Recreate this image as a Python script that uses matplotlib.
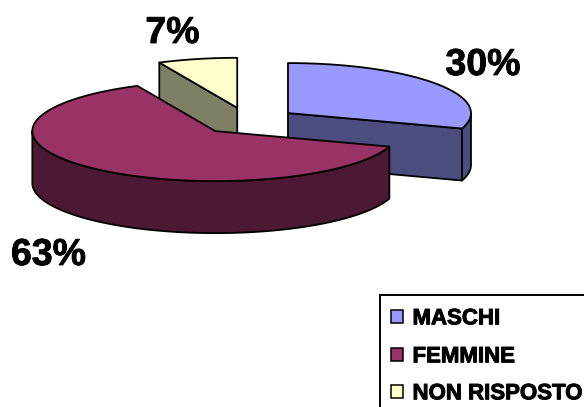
import numpy as np
import matplotlib
matplotlib.use("Agg")
import matplotlib.pyplot as plt
from matplotlib.patches import Polygon, Rectangle
import matplotlib.patheffects as pe

# ---- data ----
categories = ["MASCHI", "FEMMINE", "NON RISPOSTO"]
values = [30, 63, 7]
labels = ["30%", "63%", "7%"]

# ---- style ----
top_colors = ["#9999FF", "#993366", "#FFFFCC"]
side_colors = ["#4C4C7F", "#4C1933", "#7F7F66"]

plt.rcParams['font.family'] = ['Liberation Sans', 'DejaVu Sans']

W, H = 584, 407
fig = plt.figure(figsize=(W / 100, H / 100), dpi=100)
ax = fig.add_axes([0, 0, 1, 1])
ax.set_xlim(0, W)
ax.set_ylim(H, 0)
ax.axis('off')

# pie geometry (pixel coordinates, y down)
cx, cy = 248.0, 121.0
rx, ry = 183.0, 50.0
depth = 52.0
explode = 0.27
lw = 1.3


def pt(theta_deg, c, z=0.0):
    t = np.radians(theta_deg)
    return np.column_stack([c[0] + rx * np.cos(t), c[1] - ry * np.sin(t) + z])


total = float(sum(values))
slices = []
start = 90.0
for i, v in enumerate(values):
    sweep = v / total * 360.0
    hi = start
    lo = start - sweep
    mid = np.radians((hi + lo) / 2)
    c = (cx + explode * rx * np.cos(mid), cy - explode * ry * np.sin(mid))
    slices.append((i, lo, hi, c))
    start = lo

# painter's order: back (smaller y) first
slices.sort(key=lambda s: s[3][1])

for i, lo, hi, c in slices:
    ctr = np.array([[c[0], c[1]]])
    ctr_b = np.array([[c[0], c[1] + depth]])
    # visible cut faces
    for ang, vis in ((lo, np.cos(np.radians(lo)) > 1e-6), (hi, np.cos(np.radians(hi)) < -1e-6)):
        if vis:
            rt = pt(ang, c)
            rb = pt(ang, c, depth)
            poly = np.vstack([ctr, rt, rb, ctr_b])
            ax.add_patch(Polygon(poly, closed=True, facecolor=side_colors[i],
                                 edgecolor='black', lw=lw, joinstyle='round'))
    # outer curved side (front half: angles 180..360)
    for k in (-1, 0, 1):
        a0 = max(lo, 180 + 360 * k)
        a1 = min(hi, 360 + 360 * k)
        if a1 > a0:
            th = np.linspace(a0, a1, 200)
            top = pt(th, c)
            bot = pt(th[::-1], c, depth)
            ax.add_patch(Polygon(np.vstack([top, bot]), closed=True,
                                 facecolor=side_colors[i], edgecolor='black',
                                 lw=lw, joinstyle='round'))
    # top face
    th = np.linspace(lo, hi, 300)
    poly = np.vstack([ctr, pt(th, c)])
    ax.add_patch(Polygon(poly, closed=True, facecolor=top_colors[i],
                         edgecolor='black', lw=lw, joinstyle='round'))

# percentage labels
label_pos = [(483, 75), (48.5, 265), (172.5, 43)]
for lab, (x, y) in zip(labels, label_pos):
    ax.text(x, y, lab, ha='center', va='baseline', fontsize=27,
            fontweight='bold', color='black',
            path_effects=[pe.withStroke(linewidth=0.6, foreground='black')])

# legend box (partly outside figure, as in the reference)
ax.add_patch(Rectangle((380, 295), 320, 200, facecolor='white',
                       edgecolor='black', lw=1.4))
row_y = [316.5, 354.5, 391.5]
for i, (cat, yy) in enumerate(zip(categories, row_y)):
    ax.add_patch(Rectangle((390.5, yy - 6.2), 12.4, 12.4,
                           facecolor=top_colors[i], edgecolor='black', lw=1.1))
    ax.text(412.5, yy + 7.8, cat, ha='left', va='baseline', fontsize=16,
            fontweight='bold', color='black',
            path_effects=[pe.withStroke(linewidth=0.7, foreground='black')])

fig.savefig("out.png", dpi=100)
